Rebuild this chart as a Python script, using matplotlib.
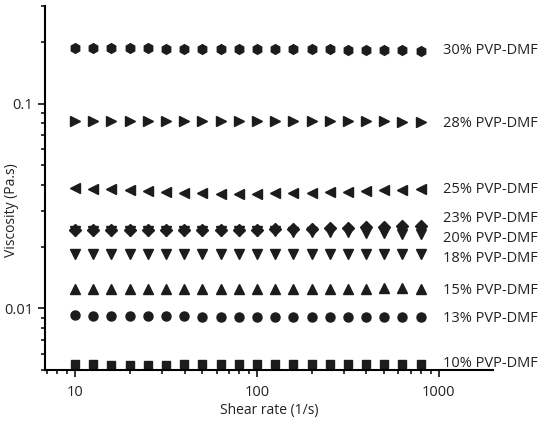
import numpy as np
import matplotlib
matplotlib.use("Agg")
import matplotlib.pyplot as plt
from matplotlib.ticker import LogLocator, NullFormatter, FixedLocator, FixedFormatter

plt.rcParams['font.family'] = ['Open Sans', 'DejaVu Sans']

# shear rate (1/s)
shear = [10, 12.6, 15.8, 20, 25.1, 31.6, 39.8, 50.1, 63.1, 79.4,
         100, 126, 158, 200, 251, 316, 398, 501, 631, 794]

# viscosity (Pa.s)
v30 = [0.186, 0.186, 0.186, 0.186, 0.186, 0.185, 0.185, 0.185, 0.185, 0.185,
       0.185, 0.185, 0.184, 0.184, 0.184, 0.183, 0.183, 0.182, 0.182, 0.181]
v28 = [0.0826, 0.0826, 0.0826, 0.0826, 0.0825, 0.0825, 0.0825, 0.0825, 0.0824, 0.0824,
       0.0823, 0.0823, 0.0822, 0.0822, 0.0821, 0.0820, 0.0819, 0.0818, 0.0817, 0.0816]
v25 = [0.0388, 0.0385, 0.0382, 0.0378, 0.0374, 0.0370, 0.0367, 0.0365, 0.0364, 0.0364,
       0.0364, 0.0365, 0.0366, 0.0368, 0.0370, 0.0372, 0.0375, 0.0378, 0.0380, 0.0382]
v23 = [0.0241, 0.0241, 0.0241, 0.0241, 0.0241, 0.0241, 0.0241, 0.0241, 0.0241, 0.0241,
       0.0242, 0.0243, 0.0244, 0.0245, 0.0246, 0.0247, 0.0249, 0.0250, 0.0252, 0.0253]
v20 = [0.0239, 0.0239, 0.0239, 0.0239, 0.0239, 0.0239, 0.0239, 0.0239, 0.0239, 0.0239,
       0.0238, 0.0238, 0.0237, 0.0236, 0.0236, 0.0235, 0.0234, 0.0233, 0.0232, 0.0231]
v18 = [0.0184, 0.0184, 0.0184, 0.0184, 0.0184, 0.0184, 0.0184, 0.0184, 0.0184, 0.0184,
       0.0184, 0.0184, 0.0184, 0.0184, 0.0184, 0.0184, 0.0184, 0.0184, 0.0184, 0.0184]
v15 = [0.0125, 0.0125, 0.0125, 0.0125, 0.0125, 0.0125, 0.0125, 0.0125, 0.0125, 0.0125,
       0.0125, 0.0125, 0.0125, 0.0125, 0.0125, 0.0125, 0.0125, 0.0126, 0.0126, 0.0125]
v13 = [0.00924, 0.00922, 0.0092, 0.00918, 0.00914, 0.00914, 0.00914, 0.00912, 0.00912, 0.00912,
       0.00912, 0.00911, 0.00911, 0.0091, 0.0091, 0.0091, 0.0091, 0.0091, 0.0091, 0.0091]
v10 = [0.00538, 0.00534, 0.00532, 0.0053, 0.00531, 0.00532, 0.00536, 0.00536, 0.00536, 0.00538,
       0.00536, 0.00536, 0.00536, 0.00536, 0.00536, 0.00536, 0.00536, 0.00536, 0.00536, 0.00536]

series = [v30, v28, v25, v23, v20, v18, v15, v13, v10]
labels = ["30% PVP-DMF", "28% PVP-DMF", "25% PVP-DMF", "23% PVP-DMF", "20% PVP-DMF",
          "18% PVP-DMF", "15% PVP-DMF", "13% PVP-DMF", "10% PVP-DMF"]
markers = ['h', '>', '<', 'D', 'v', 'v', '^', 'o', 's']
msizes = [7, 7, 7, 6.5, 7, 7, 7, 6.5, 6]
label_dy = [0, -1, 0, 5, -3, -3, -1.5, -1, 0]

fig = plt.figure(figsize=(5.5, 4.22), dpi=100)
ax = fig.add_axes([0.082, 0.123, 0.814, 0.863])

col = '#1c1c1c'
for ys, lab, m, ms, dy in zip(series, labels, markers, msizes, label_dy):
    ax.plot(shear, ys, linestyle='none', marker=m, ms=ms, color=col, mec=col)
    ax.annotate(lab, xy=(shear[-1], ys[-1]), xytext=(16, dy), textcoords='offset points',
                ha='left', va='center', fontsize=10.5, color='#222222')

ax.set_xscale('log')
ax.set_yscale('log')
ax.set_xlim(6.84, 1980)
ax.set_ylim(0.005, 0.3)

ax.xaxis.set_major_locator(FixedLocator([10, 100, 1000]))
ax.xaxis.set_major_formatter(FixedFormatter(['10', '100', '1000']))
ax.xaxis.set_minor_locator(LogLocator(base=10, subs=np.arange(2, 10)))
ax.xaxis.set_minor_formatter(NullFormatter())
ax.yaxis.set_major_locator(FixedLocator([0.01, 0.1]))
ax.yaxis.set_major_formatter(FixedFormatter(['0.01', '0.1']))
ax.yaxis.set_minor_locator(LogLocator(base=10, subs=np.arange(2, 10)))
ax.yaxis.set_minor_formatter(NullFormatter())

ax.spines['top'].set_visible(False)
ax.spines['right'].set_visible(False)
ax.spines['left'].set_linewidth(1.5)
ax.spines['bottom'].set_linewidth(1.5)
ax.tick_params(which='major', direction='out', length=5, width=1.3, labelsize=10.5, colors='#222222')
ax.tick_params(which='minor', direction='out', length=3, width=1.1)
ax.tick_params(axis='x', which='major', pad=6)

ax.set_xlabel("Shear rate (1/s)", fontsize=10, color='#222222', labelpad=2)
ax.set_ylabel("Viscosity (Pa.s)", fontsize=10, color='#222222')
ax.yaxis.set_label_coords(-0.058, 0.44)

fig.savefig("out.png", dpi=100)
